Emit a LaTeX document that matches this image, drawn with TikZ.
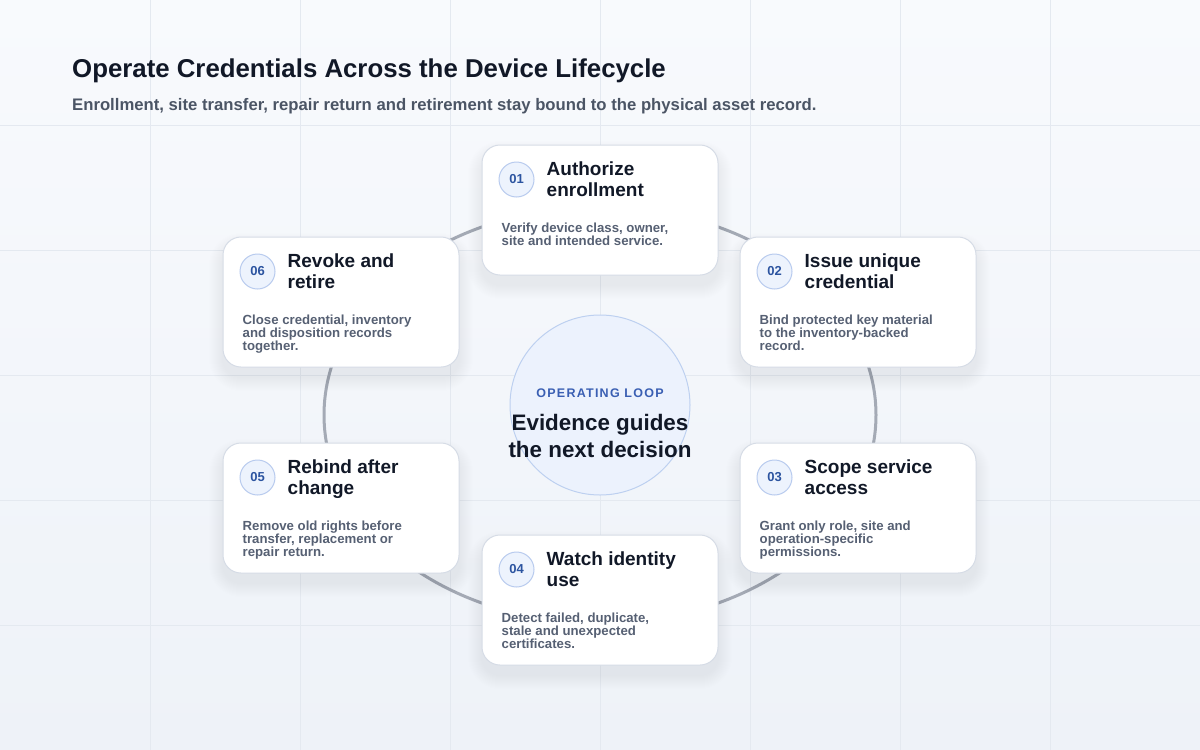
\documentclass[tikz,border=0pt]{standalone}
\usepackage{fontspec}
\setmainfont{Liberation Sans}
\usetikzlibrary{calc}
\definecolor{bgtop}{HTML}{F8FAFD}
\definecolor{bgbot}{HTML}{EEF2F8}
\definecolor{gridc}{HTML}{E4E9F0}
\definecolor{ringc}{HTML}{A4AAB5}
\definecolor{cardborder}{HTML}{D6DCE6}
\definecolor{ink}{HTML}{111827}
\definecolor{descc}{HTML}{566073}
\definecolor{subc}{HTML}{4B5565}
\definecolor{badgefill}{HTML}{EDF3FD}
\definecolor{badgeborder}{HTML}{B8CBEE}
\definecolor{badgetext}{HTML}{2C54A0}
\definecolor{hubfill}{HTML}{ECF2FD}
\definecolor{hubborder}{HTML}{BDD0F0}
\definecolor{hubtext}{HTML}{3A5FB3}
\tikzset{
  cardbox/.style={draw=cardborder, line width=1pt, fill=white, rounded corners=18pt,
    minimum width=236pt, minimum height=130pt, inner sep=0pt},
  badge/.style={circle, draw=badgeborder, line width=1pt, fill=badgefill, minimum size=35pt,
    inner sep=0pt, text=badgetext, font=\fontsize{13}{13}\selectfont\bfseries},
  cardtitle/.style={anchor=base west, inner sep=0pt, align=left, text=ink,
    font=\fontsize{19}{21}\selectfont\bfseries},
  carddesc/.style={anchor=base west, inner sep=0pt, align=left, text=descc,
    font=\fontsize{13.2}{13}\selectfont\bfseries},
}
% #8 = offset of last desc baseline from first (0, 13 or 26)
\newcommand{\stepcard}[8]{%
  \foreach \k in {1,...,14}{
    \fill[black, opacity=0.0045, rounded corners={18pt+\k pt}]
      ($(#2,#3)+(-118-\k,-65-\k+10)$) rectangle ($(#2,#3)+(118+\k,65+\k+10)$);
  }
  \node[cardbox] (#1) at (#2,#3) {};
  \node[badge] (#1b) at ($(#1.north west)+(35,35)$) {#4};
  \node[cardtitle] (#1t) at ($(#1.north west)+(65,52)$) {#5\\#6};
  \node[carddesc] (#1d) at ($(#1.north west)+(20,87.5+#8)$) {#7};
}
\begin{document}
\begin{tikzpicture}[x=1pt,y=-1pt]
\useasboundingbox (0,0) rectangle (1200,750);
\shade[top color=bgtop, bottom color=bgbot] (0,0) rectangle (1200,750);
\foreach \gx in {150,300,...,1050} \draw[gridc, line width=0.8pt] (\gx,0) -- (\gx,750);
\foreach \gy in {125,250,...,625} \draw[gridc, line width=0.8pt] (0,\gy) -- (1200,\gy);

\node[anchor=base west, inner sep=0pt, text=ink, font=\fontsize{25.8}{26}\selectfont\bfseries] (title) at (72,77) {Operate Credentials Across the Device Lifecycle};
\node[anchor=base west, inner sep=0pt, text=subc, font=\fontsize{16.7}{17}\selectfont\bfseries] (subtitle) at (72,110) {Enrollment, site transfer, repair return and retirement stay bound to the physical asset record.};

\coordinate (loopc) at (600,415);
\draw[ringc, line width=3pt] (loopc) ellipse[x radius=276, y radius=208];

\node[circle, draw=hubborder, line width=1pt, fill=hubfill, minimum size=180pt, inner sep=0pt] (hub) at (600,405) {};
\node[anchor=base, inner sep=0pt, text=hubtext, font=\fontsize{12.5}{12}\selectfont\bfseries\addfontfeature{LetterSpace=10}] (hublabel) at (600,397) {OPERATING LOOP};
\node[anchor=base, inner sep=0pt, align=center, text=ink, font=\fontsize{22.4}{27}\selectfont\bfseries] (hubtitle) at (600,457) {Evidence guides\\the next decision};

\stepcard{c1}{600}{210}{01}{Authorize}{enrollment}{Verify device class, owner,\\site and intended service.}{13}
\stepcard{c2}{858}{302}{02}{Issue unique}{credential}{Bind protected key material\\to the inventory-backed\\record.}{26}
\stepcard{c3}{858}{508}{03}{Scope service}{access}{Grant only role, site and\\operation-specific\\permissions.}{26}
\stepcard{c4}{600}{600}{04}{Watch identity}{use}{Detect failed, duplicate,\\stale and unexpected\\certificates.}{26}
\stepcard{c5}{341}{508}{05}{Rebind after}{change}{Remove old rights before\\transfer, replacement or\\repair return.}{26}
\stepcard{c6}{341}{302}{06}{Revoke and}{retire}{Close credential, inventory\\and disposition records\\together.}{26}
\end{tikzpicture}
\end{document}
